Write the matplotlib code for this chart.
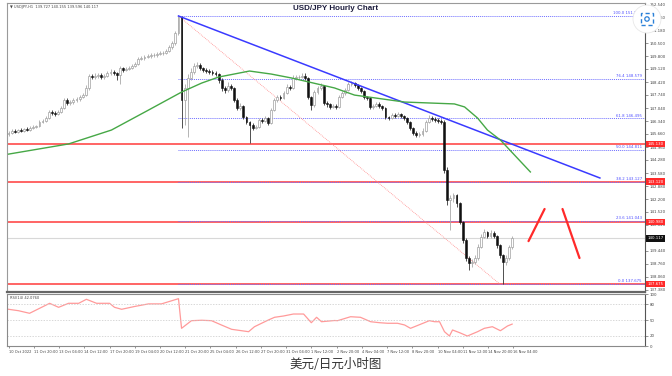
import numpy as np
import matplotlib
matplotlib.use("Agg")
import matplotlib.pyplot as plt
import matplotlib.transforms as mtransforms
from matplotlib.patches import Circle, Rectangle

# ---------------- data ----------------
close = [145.71, 145.82, 145.77, 145.87, 145.82, 145.93, 145.87, 145.98, 146.03, 146.08,
         146.30, 146.35, 146.51, 146.83, 146.78, 146.73, 146.83, 147.04, 147.47, 147.31,
         147.36, 147.47, 147.52, 147.63, 147.73, 148.11, 148.75, 148.69, 148.75, 148.80,
         148.69, 148.75, 148.91, 148.96, 148.91, 148.80, 149.17, 149.07, 149.12, 149.17,
         149.28, 149.38, 149.65, 149.70, 149.76, 149.81, 149.86, 149.86, 149.92, 149.97,
         149.97, 150.08, 150.29, 150.50, 151.03, 151.89, 147.47, 148.11, 148.64, 148.96,
         149.28, 149.33, 149.17, 149.07, 149.01, 148.96, 148.91, 148.85, 148.53, 148.11,
         148.00, 148.21, 148.11, 147.47, 147.04, 147.15, 146.56, 146.30, 146.14, 145.98,
         146.03, 146.40, 146.35, 146.51, 146.24, 146.94, 147.47, 147.63, 147.57, 147.84,
         148.16, 148.11, 148.64, 148.69, 148.69, 148.75, 148.64, 147.63, 147.20, 147.89,
         148.11, 148.21, 147.31, 147.26, 147.10, 147.15, 147.10, 147.63, 147.84, 148.00,
         148.32, 148.37, 148.27, 148.11, 147.95, 147.63, 147.57, 147.10, 147.15, 147.26,
         147.15, 147.04, 146.56, 146.51, 146.67, 146.62, 146.73, 146.62, 146.51, 146.30,
         145.98, 145.71, 145.61, 145.66, 145.82, 146.30, 146.51, 146.46, 146.40, 146.35,
         146.30, 143.74, 142.15, 142.25, 142.41, 141.99, 140.98, 140.02, 139.06, 138.79,
         138.85, 139.06, 139.65, 140.18, 140.44, 140.23, 140.39, 140.23, 139.75, 139.22,
         138.85, 139.06, 139.65, 140.12]
high = [145.80, 145.90, 145.92, 145.95, 145.96, 146.00, 146.02, 146.06, 146.12, 146.16,
        146.40, 146.45, 146.62, 146.95, 146.92, 146.88, 146.94, 147.15, 147.60, 147.55,
        147.48, 147.58, 147.64, 147.75, 147.86, 148.25, 148.86, 148.84, 148.88, 148.92,
        148.90, 148.86, 149.02, 149.10, 149.05, 148.98, 149.28, 149.25, 149.22, 149.28,
        149.38, 149.50, 149.76, 149.82, 149.86, 149.90, 149.96, 149.98, 150.02, 150.06,
        150.10, 150.20, 150.40, 150.62, 151.15, 151.94, 151.92, 148.32, 148.85, 149.17,
        149.45, 149.50, 149.42, 149.25, 149.15, 149.10, 149.05, 149.00, 148.92, 148.62,
        148.20, 148.45, 148.30, 148.18, 147.55, 147.30, 147.20, 146.62, 146.36, 146.22,
        146.15, 146.52, 146.50, 146.62, 146.56, 147.05, 147.58, 147.76, 147.72, 147.96,
        148.30, 148.26, 148.78, 148.82, 148.80, 148.88, 148.92, 148.70, 147.70, 148.00,
        148.24, 148.35, 148.28, 147.40, 147.32, 147.26, 147.24, 147.74, 147.95, 148.12,
        148.45, 148.48, 148.44, 148.32, 148.18, 148.02, 147.70, 147.62, 147.28, 147.38,
        147.34, 147.22, 147.10, 146.64, 146.80, 146.76, 146.85, 146.80, 146.68, 146.58,
        146.36, 146.04, 145.80, 145.78, 145.96, 146.42, 146.66, 146.62, 146.55, 146.50,
        146.45, 146.40, 143.90, 142.40, 142.50, 142.48, 142.05, 141.05, 140.10, 139.15,
        139.00, 139.20, 139.80, 140.32, 140.60, 140.52, 140.55, 140.50, 140.30, 139.82,
        139.30, 139.20, 139.78, 140.25]
low = [145.58, 145.66, 145.70, 145.72, 145.76, 145.78, 145.80, 145.83, 145.92, 145.97,
       146.02, 146.22, 146.28, 146.45, 146.66, 146.62, 146.65, 146.76, 146.98, 147.20,
       147.22, 147.28, 147.38, 147.44, 147.55, 147.66, 148.02, 148.58, 148.60, 148.66,
       148.58, 148.60, 148.68, 148.82, 148.80, 148.52, 148.30, 148.98, 149.00, 149.04,
       149.10, 149.20, 149.32, 149.58, 149.62, 149.68, 149.72, 149.74, 149.78, 149.84,
       149.85, 149.90, 150.00, 150.20, 150.40, 150.95, 145.98, 146.14, 145.50, 148.53,
       148.85, 149.17, 149.05, 148.96, 148.90, 148.85, 148.80, 148.72, 148.40, 147.95,
       147.86, 147.92, 147.98, 147.36, 146.92, 146.96, 146.45, 146.18, 145.18, 145.86,
       145.90, 145.96, 146.24, 146.28, 146.14, 146.18, 146.86, 147.38, 147.46, 147.50,
       147.78, 148.00, 148.05, 148.55, 148.58, 148.62, 148.52, 147.52, 146.95, 147.12,
       147.80, 148.02, 147.20, 147.12, 146.98, 147.02, 146.98, 147.04, 147.55, 147.76,
       147.94, 148.24, 148.16, 148.00, 147.84, 147.52, 147.45, 146.98, 147.00, 147.08,
       147.04, 146.92, 146.45, 146.40, 146.44, 146.50, 146.55, 146.50, 146.40, 146.20,
       145.86, 145.60, 145.50, 145.52, 145.58, 145.76, 146.22, 146.36, 146.30, 146.25,
       146.20, 143.60, 141.90, 140.55, 142.05, 141.80, 140.85, 139.88, 138.90, 138.42,
       138.60, 138.72, 138.98, 139.58, 140.10, 140.10, 140.12, 140.12, 139.62, 139.08,
       137.68, 138.70, 138.98, 139.55]
first_open = 145.65

ma_bar = [0, 19.4, 33.3, 44.7, 56, 62.5, 68, 78, 85, 91.6, 105.5, 112, 128.2, 144.3,
          147.6, 151.8, 155, 159.2, 168.9]
ma_val = [144.59, 145.13, 145.87, 146.88, 147.89, 148.37, 148.69, 149.01, 148.85, 148.64,
          148.11, 147.73, 147.36, 147.26, 147.10, 146.51, 145.87, 145.34, 143.64]

rsi_bar = [0, 3.2, 6.8, 10.7, 13.3, 16.2, 19.4, 22.7, 25.2, 28.5, 32.7, 34.3, 36.6, 40.8,
           45.3, 49.5, 55, 56, 59.2, 62.5, 65.7, 68.9, 72.2, 77.7, 79.6, 84.1, 86.1, 89,
           92.2, 95.5, 98, 99.7, 101.3, 105.5, 106.5, 110.7, 113.9, 117.2, 120.1, 122.7,
           125.9, 128.2, 130.1, 134.6, 136.2, 137.9, 139.5, 141.1, 142.7, 143.7, 146,
           148.5, 151.8, 154, 156.6, 159.2, 161.5, 163]
rsi_val = [70.6, 67.9, 62.9, 74.4, 82.1, 74.4, 82.1, 82.1, 89.8, 82.1, 82.1, 74.4, 70.6, 76,
           81, 81, 91, 34, 48.7, 49.5, 48.7, 40.4, 32.1, 27.5, 37.1, 50, 55.2, 57.7,
           61.5, 61.5, 44.8, 55.2, 46.7, 49, 48.7, 56.3, 55.2, 46.7, 44.8, 43.7,
           43.7, 40.4, 34, 44.8, 48.7, 46.7, 46.7, 27.5, 19.2, 30.8, 25.6,
           19.2, 27.5, 34, 37.1, 29.4, 38.5, 42.1]

fib_high, fib_low = 151.947, 137.675
fib_start_bar = 55
fib_ratios = [100.0, 76.4, 61.8, 50.0, 38.2, 23.6, 0.0]

trend_bars = [55, 191.4]
trend_prices = [151.94, 143.32]
diag_bars = [55, 159]
diag_prices = [151.94, 137.675]

red_levels = [145.13, 143.12, 140.98, 137.675]
red_labels = ["145.130", "143.120", "140.980", "137.675"]
last_price = 140.117

arrow_up_bars = [168.3, 173.5]
arrow_up_prices = [139.96, 141.67]
arrow_dn_bars = [179.3, 184.8]
arrow_dn_prices = [141.67, 139.06]

price_ticks = [152.540, 151.860, 151.180, 150.500, 149.800, 149.120, 148.420, 147.740,
               147.040, 146.340, 145.660, 144.960, 144.280, 143.580, 142.880, 142.200,
               141.520, 140.820, 139.440, 138.760, 138.060, 137.380]
date_labels = ["10 Oct 2022", "11 Oct 20:00", "13 Oct 04:00", "14 Oct 12:00", "17 Oct 20:00",
               "19 Oct 04:00", "20 Oct 12:00", "21 Oct 20:00", "25 Oct 04:00", "26 Oct 12:00",
               "27 Oct 20:00", "31 Oct 04:00", "1 Nov 12:00", "2 Nov 20:00", "4 Nov 04:00",
               "7 Nov 12:00", "8 Nov 20:00", "10 Nov 04:00", "11 Nov 12:00", "14 Nov 20:00",
               "16 Nov 04:00"]
bars_per_label = 8.17
rsi_levels = [20, 50, 80]
rsi_ticks = [0, 20, 50, 80, 100]

# ---------------- figure ----------------
W, H = 672, 376
fig = plt.figure(figsize=(W / 100, H / 100), dpi=100)
fig.patch.set_facecolor("white")

def fx(px):
    return px / W

def fy(py):
    return 1 - py / H

ax = fig.add_axes([fx(7), fy(291.5), fx(645 - 7), (291.5 - 3) / H])
axr = fig.add_axes([fx(7), fy(346), fx(645 - 7), (346 - 294) / H], sharex=ax)

xmin, xmax = -0.5, 206
ax.set_xlim(xmin, xmax)
ax.set_ylim(137.28, 152.63)

n = len(close)
xs = np.arange(n)
opens = np.array([first_open] + close[:-1])
cl = np.array(close)
hi = np.array(high)
lo = np.array(low)
up = cl >= opens

# wicks
ax.vlines(xs[up], lo[up], hi[up], colors="#a8a8a8", linewidth=0.6, zorder=3)
ax.vlines(xs[~up], lo[~up], hi[~up], colors="#333333", linewidth=0.6, zorder=3)
# bodies
bot = np.minimum(opens, cl)
hgt = np.maximum(np.abs(cl - opens), 0.02)
ax.bar(xs[up], hgt[up], bottom=bot[up], width=0.6, color="white",
       edgecolor="#a0a0a0", linewidth=0.5, zorder=4)
ax.bar(xs[~up], hgt[~up], bottom=bot[~up], width=0.6, color="#111111",
       edgecolor="#111111", linewidth=0.4, zorder=4)

# red horizontal levels
for lv in red_levels:
    ax.axhline(lv, color="#ff4a4a", linewidth=1.2, zorder=2)
# current price line
ax.axhline(last_price, color="#d8d8d8", linewidth=0.8, zorder=1)

# fib levels
trans_ax_data = mtransforms.blended_transform_factory(ax.transAxes, ax.transData)
for r in fib_ratios:
    p = fib_low + (fib_high - fib_low) * r / 100.0
    ax.hlines(p, fib_start_bar, xmax, colors="#6f6fff", linestyles=(0, (1, 1)),
              linewidth=0.7, zorder=2)
    ax.text(0.995, p + 0.04, f"{r:.1f} {p:.3f}", transform=trans_ax_data, ha="right",
            va="bottom", fontsize=2.8, color="#5050ff", zorder=6)

# diagonal fib line
ax.plot(diag_bars, diag_prices, color="#ff8c8c", linestyle=(0, (1, 1.2)), linewidth=0.6, zorder=2)
# trend line
ax.plot(trend_bars, trend_prices, color="#3a3aff", linewidth=1.1, zorder=5)
# moving average
ax.plot(ma_bar, ma_val, color="#46a846", linewidth=1.0, zorder=5)
# red arrows
ax.plot(arrow_up_bars, arrow_up_prices, color="#ff2a2a", linewidth=1.6, solid_capstyle="round", zorder=6)
ax.plot(arrow_dn_bars, arrow_dn_prices, color="#ff2a2a", linewidth=1.6, solid_capstyle="round", zorder=6)

# axes styling
ax.yaxis.tick_right()
ax.set_yticks(price_ticks)
ax.set_yticklabels([f"{t:.3f}" for t in price_ticks])
ax.tick_params(axis="y", labelsize=2.8, length=2, width=0.4, pad=1.5, colors="#444444")
ax.tick_params(axis="x", bottom=False, labelbottom=False)
for s in ["left", "top"]:
    ax.spines[s].set_color("#9a9a9a")
    ax.spines[s].set_linewidth(0.8)
ax.spines["right"].set_color("#555555")
ax.spines["right"].set_linewidth(0.8)
ax.spines["bottom"].set_color("#666666")
ax.spines["bottom"].set_linewidth(1.6)

# right-axis price boxes
trans_r = mtransforms.blended_transform_factory(ax.transAxes, ax.transData)
for lv, lab in zip(red_levels, red_labels):
    ax.text(1.004, lv, lab, transform=trans_r, ha="left", va="center", fontsize=2.8,
            color="white", clip_on=False, zorder=10,
            bbox=dict(boxstyle="square,pad=0.35", fc="#ff2a2a", ec="none"))
ax.text(1.004, last_price, f"{last_price:.3f}", transform=trans_r, ha="left", va="center",
        fontsize=2.8, color="white", clip_on=False, zorder=10,
        bbox=dict(boxstyle="square,pad=0.35", fc="#111111", ec="none"))

# info text top-left
ax.text(0.004, 0.992, "\u25bc USDJPY,H1  139.727 140.155 139.596 140.117", transform=ax.transAxes,
        ha="left", va="top", fontsize=2.6, color="#444444")

# RSI panel
axr.set_ylim(0, 100)
axr.plot(rsi_bar, rsi_val, color="#ff9a9a", linewidth=0.9)
for lv in rsi_levels:
    axr.axhline(lv, color="#c8c8c8", linestyle=(0, (2, 2)), linewidth=0.5)
axr.yaxis.tick_right()
axr.set_yticks(rsi_ticks)
axr.set_yticklabels([str(t) for t in rsi_ticks])
axr.tick_params(axis="y", labelsize=2.8, length=2, width=0.4, pad=1.5, colors="#444444")
tick_pos = [i * bars_per_label for i in range(len(date_labels))]
axr.set_xticks(tick_pos)
axr.set_xticklabels(date_labels, ha="left")
axr.tick_params(axis="x", labelsize=2.6, length=1.5, width=0.4, pad=1.5, colors="#444444")
for s in ["left", "bottom", "top"]:
    axr.spines[s].set_color("#8a8a8a")
    axr.spines[s].set_linewidth(0.8)
axr.spines["right"].set_color("#555555")
axr.spines["right"].set_linewidth(0.8)
axr.text(0.004, 0.96, "RSI(14) 42.0760", transform=axr.transAxes, ha="left", va="top",
         fontsize=2.6, color="#444444")

# title and caption
fig.text(fx(336), fy(8), "USD/JPY Hourly Chart", ha="center", va="center",
         fontsize=5.8, fontweight="bold", color="#1c1c3c", family=["Liberation Sans", "DejaVu Sans"])
fig.text(fx(336), fy(364), "美元/日元小时图", ha="center", va="center", fontsize=9,
         color="#333333", family=["Noto Sans CJK SC", "DejaVu Sans"])

# screenshot overlay icon (top right)
fig.patches.append(Circle((647, H - 19), 14, transform=mtransforms.IdentityTransform(),
                          facecolor="white", edgecolor="#e8e8e8", linewidth=0.6, zorder=20))
fig.patches.append(Rectangle((641, H - 25), 12, 12, transform=mtransforms.IdentityTransform(),
                             facecolor="none", edgecolor="#2a80d8", linewidth=1.0, zorder=21,
                             linestyle=(0, (3, 2))))
fig.patches.append(Circle((647, H - 19), 2.2, transform=mtransforms.IdentityTransform(),
                          facecolor="none", edgecolor="#2a80d8", linewidth=0.9, zorder=22))

fig.savefig("out.png", dpi=100, facecolor="white")
